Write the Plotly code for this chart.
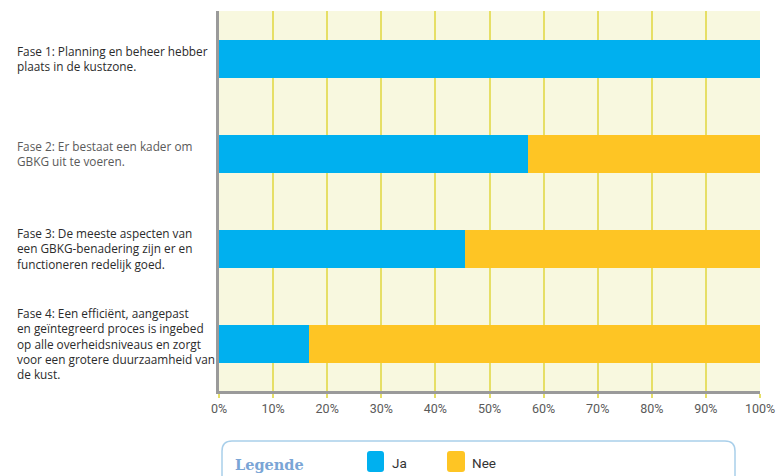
import plotly.graph_objects as go

categories = [
    "Fase 1: Planning en beheer hebber<br>plaats in de kustzone.",
    "Fase 2: Er bestaat een kader om<br>GBKG uit te voeren.",
    "Fase 3: De meeste aspecten van<br>een GBKG-benadering zijn er en<br>functioneren redelijk goed.",
    "Fase 4: Een efficiënt, aangepast<br>en geïntegreerd proces is ingebed<br>op alle overheidsniveaus en zorgt<br>voor een grotere duurzaamheid van<br>de kust.",
]
series_names = ["Ja", "Nee"]
ja_values = [100, 57.1, 45.4, 16.7]
nee_values = [0, 42.9, 54.6, 83.3]
colors = ["#00b0ef", "#fec524"]
x_ticks = [0, 10, 20, 30, 40, 50, 60, 70, 80, 90, 100]
x_tick_labels = [f"{t}%" for t in x_ticks]

W, H = 776, 476
L, R, T, B = 219, 16, 11, 85
PW, PH = W - L - R, H - T - B

def px2paper(x, y):
    return (x - L) / PW, (H - B - y) / PH

def rounded_rect(x0, y0, x1, y1, r):
    def P(x, y):
        px_, py_ = px2paper(x, y)
        return f"{px_:.5f},{py_:.5f}"
    return (f"M{P(x0 + r, y0)} L{P(x1 - r, y0)} Q{P(x1, y0)} {P(x1, y0 + r)} "
            f"L{P(x1, y1 - r)} Q{P(x1, y1)} {P(x1 - r, y1)} L{P(x0 + r, y1)} "
            f"Q{P(x0, y1)} {P(x0, y1 - r)} L{P(x0, y0 + r)} Q{P(x0, y0)} {P(x0 + r, y0)} Z")

fig = go.Figure()
for name, vals, col in zip(series_names, [ja_values, nee_values], colors):
    fig.add_trace(go.Bar(
        y=categories, x=vals, name=name, orientation="h",
        marker=dict(color=col, line=dict(width=0)), width=0.4,
        showlegend=False, hoverinfo="x+name",
    ))

label_colors = ["#2b2b2b", "#5a5a5a", "#2b2b2b", "#2b2b2b"]
annotations = []
for c, lc in zip(categories, label_colors):
    annotations.append(dict(
        x=(15 - L) / PW, xref="paper", y=c, yref="y", text=c,
        xanchor="left", yanchor="middle", align="left", showarrow=False,
        font=dict(family="Open Sans", size=11.8, color=lc),
    ))

shapes = [
    dict(type="path", xref="paper", yref="paper",
         path=rounded_rect(222, 441, 735, 495, 10),
         line=dict(color="#a9cfea", width=1.5), fillcolor="rgba(0,0,0,0)", layer="above"),
]
legend_items = [(367, 384, 390), (447, 465, 470)]
for (x0, x1, tx), name, col in zip(legend_items, series_names, colors):
    shapes.append(dict(type="path", xref="paper", yref="paper",
                       path=rounded_rect(x0, 451, x1, 472, 3),
                       line=dict(width=0), fillcolor=col, layer="above"))
    xp, yp = px2paper(tx, 463)
    annotations.append(dict(x=xp, y=yp, xref="paper", yref="paper", text=name,
                            xanchor="left", yanchor="middle", showarrow=False,
                            font=dict(family="Roboto", size=13.5, color="#333333")))
xp, yp = px2paper(233, 464)
annotations.append(dict(x=xp, y=yp, xref="paper", yref="paper", text="<b>Legende</b>",
                        xanchor="left", yanchor="middle", showarrow=False,
                        font=dict(family="DejaVu Serif", size=14.5, color="#7aa5d6")))

fig.update_layout(
    width=W, height=H, autosize=False, barmode="stack",
    margin=dict(l=L, r=R, t=T, b=B, pad=0, autoexpand=False),
    paper_bgcolor="white", plot_bgcolor="#f8f8df",
    xaxis=dict(range=[0, 100], tickvals=x_ticks, ticktext=x_tick_labels,
               showgrid=True, gridcolor="#e6df66", gridwidth=1.5,
               showline=True, linecolor="#9a9a9a", linewidth=2.5,
               ticks="outside", ticklen=4, tickcolor="#e6df66", tickwidth=1.5,
               tickfont=dict(family="Roboto", size=12.5, color="#5a5a5a"),
               zeroline=False, fixedrange=True, automargin=False),
    yaxis=dict(type="category", autorange="reversed", showticklabels=False,
               showgrid=False, showline=True, linecolor="#9a9a9a", linewidth=2.5,
               zeroline=False, ticks="", fixedrange=True, automargin=False),
    annotations=annotations, shapes=shapes, bargap=0.6,
)
fig.write_html("out.html", config={"displayModeBar": False, "responsive": False},
               post_script="document.body.style.margin='0';document.body.style.overflow='hidden';")
